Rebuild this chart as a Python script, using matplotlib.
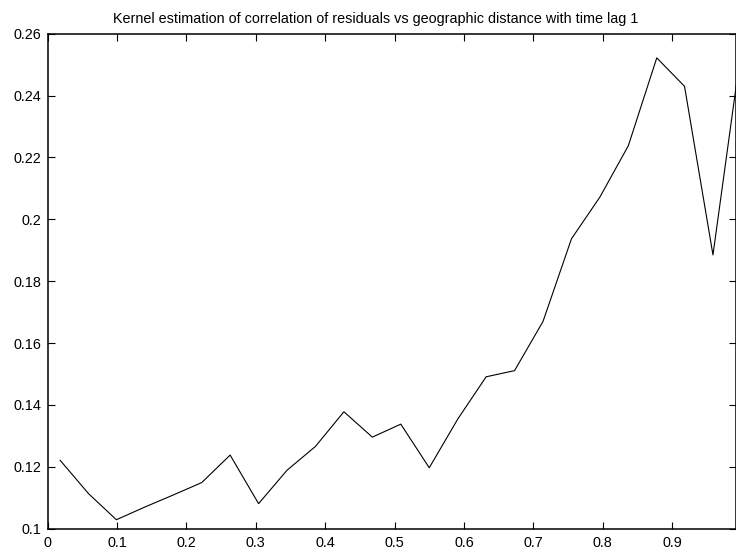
import matplotlib
matplotlib.use("Agg")
import matplotlib.pyplot as plt

# Kernel-smoothed correlation of residuals against geographic distance (time lag 1)
distance = [0.018, 0.059, 0.099, 0.140, 0.181, 0.222, 0.263, 0.304, 0.345,
            0.386, 0.427, 0.468, 0.509, 0.550, 0.591, 0.632, 0.673, 0.714,
            0.755, 0.796, 0.837, 0.878, 0.918, 0.959, 1.000]
correlation = [0.1221, 0.1113, 0.1029, 0.1070, 0.1109, 0.1149, 0.1238, 0.1081,
               0.1189, 0.1266, 0.1378, 0.1296, 0.1338, 0.1197, 0.1354, 0.1491,
               0.1511, 0.1670, 0.1937, 0.2072, 0.2238, 0.2522, 0.2430, 0.1885,
               0.2554]

x_ticks = [0, 0.1, 0.2, 0.3, 0.4, 0.5, 0.6, 0.7, 0.8, 0.9]
y_ticks = [0.1, 0.12, 0.14, 0.16, 0.18, 0.2, 0.22, 0.24, 0.26]
title = "Kernel estimation of correlation of residuals vs geographic distance with time lag 1"

plt.rcParams["font.family"] = ["Liberation Sans", "DejaVu Sans"]

fig = plt.figure(figsize=(7.36, 5.52), dpi=100)
ax = fig.add_axes([0.0648, 0.0422, 0.9352, 0.8967])

ax.plot(distance, correlation, color="black", linewidth=0.8)

ax.set_xlim(0, 0.9922)
ax.set_ylim(0.1, 0.26)
ax.set_xticks(x_ticks)
ax.set_xticklabels(["%g" % t for t in x_ticks])
ax.set_yticks(y_ticks)
ax.set_yticklabels(["%g" % t for t in y_ticks])

ax.tick_params(direction="in", length=5, width=0.8, labelsize=10.4,
               top=True, right=True, colors="black")
ax.tick_params(axis="x", pad=5)
ax.tick_params(axis="y", pad=4.3)
for spine in ax.spines.values():
    spine.set_linewidth(1.1)

fig.text(376 / 736, 1 - 23.3 / 552, title, fontsize=10.4,
         ha="center", va="baseline")

fig.savefig("out.png", dpi=100)
